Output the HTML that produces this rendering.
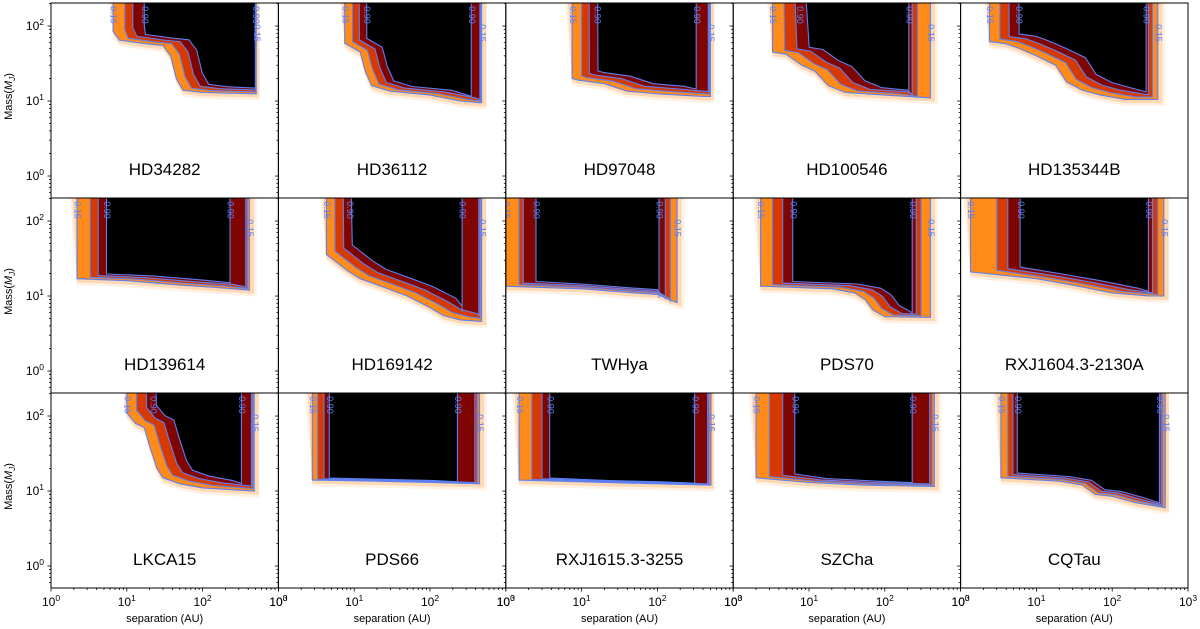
<!DOCTYPE html>
<html><head><meta charset="utf-8"><style>
body{margin:0;background:#fff;}
svg{display:block;font-family:"Liberation Sans",sans-serif;}
</style></head><body>
<svg id="fig" width="1200" height="629" viewBox="0 0 1200 629" xmlns="http://www.w3.org/2000/svg"></svg>
<script>
const names=["HD34282","HD36112","HD97048","HD100546","HD135344B","HD139614","HD169142","TWHya","PDS70","RXJ1604.3-2130A","LKCA15","PDS66","RXJ1615.3-3255","SZCha","CQTau"];
// inner separations for contour levels 0.15,0.5,0.7,0.9 (AU)
const sepIn=[[6.6,9.4,12,17],[7.5,9.5,11.5,14.5],[7.5,10,12.5,16],[3.3,4.5,5.8,7.5],[2.4,3.3,4.3,5.8],[2.2,3.3,4.2,5.4],[4.3,5.5,7,8.6],[1,1.5,1.7,2.5],[2.3,3.3,4.5,6.1],[1.35,3,4.2,6.1],[10,13,17,22],[2.8,3.3,4,4.7],[1.5,2.2,3,3.8],[2,3,4.5,6.5],[3.4,4.2,4.9,5.6]];
// outer separations for contour levels 0.15,0.5,0.7,0.9 (AU)
const sepOut=[[510,505,500,495],[480,470,455,350],[500,485,470,325],[400,270,230,207],[400,340,300,280],[415,390,370,230],[480,460,440,265],[182,148,127,105],[400,300,260,230],[480,400,340,300],[480,460,440,325],[450,420,390,230],[510,480,460,310],[450,420,390,230],[500,460,440,420]];
// 0.15 contour lower boundary: separations (AU) and masses (MJ)
const curveSep=[[6.6,8,18,30,38,45,55,100,500],[7.5,12,14,17,30,100,250,450],[7.5,9,20,40,100,400],[3.3,5,8,12,18,30,100,500],[2.4,4,6,10,18,25,40,70,150,500],[2.2,10,50,150,500],[4.3,8,12,25,50,100,150,250,450],[1,10,50,100,140,200,280],[2.3,20,40,55,70,100,350],[1.35,10,30,100,300,500],[10,13,17,20,25,30,50,100,500],[2.8,20,100,500],[1.5,20,100,500],[2,10,50,500],[3.4,20,40,60,100,200,500]];
const curveMass=[[85,65,58,55,40,20,14,13,12.5],[59,45,25,16,13.5,12,10,9.5],[20,19,17,13.5,12.5,11.5],[45,42,30,25,16,13,12,11],[62,58,50,40,30,18,14,12,10.5,10.5],[17,16,14,13,12],[36,22,17,13,10,7,5.5,4.8,4.6],[13.5,12.5,11,10.5,9,8.2,8.2],[13.5,12.5,11,9,6.5,5.3,5.2],[21,17,14,11,10,10],[110,80,70,40,20,15,12.5,11,10],[14,13.5,13,12.5],[14,13,12.5,12],[15,13,12,11.5],[15,13.5,12,9,8.5,7,6]];
const shiftS=[1.3,1.25,1.3,1.45,1.35,1.3,1.3,1.0,1.3,1.3,1.35,1.05,1.05,1.2,1.1];
const shiftM=[1.06,1.05,1.08,1.05,1.08,1.05,1.1,1.05,1.05,1.05,1.08,1.02,1.02,1.04,1.05];
const levelLabels=["0.15","0.50","0.70","0.90"];
const levelColors=["#ff8c1a","#d63a00","#7e0500","#000000"];

const NS="http://www.w3.org/2000/svg";
const svg=document.getElementById("fig");
const PW=227.4, PH=195, X0=51, Y0=3, DEC=75;
function mk(tag,attrs,parent){const e=document.createElementNS(NS,tag);for(const k in attrs)e.setAttribute(k,attrs[k]);(parent||svg).appendChild(e);return e;}
function xs(c,s){return X0+c*PW+PW/3*Math.log10(s);}
function ys(r,m){return Y0+r*PH+DEC*(2.307-Math.log10(m));}

const defs=mk("defs",{});
for(let i=0;i<15;i++){
  const c=i%5,r=Math.floor(i/5);
  const cp=mk("clipPath",{id:"clip"+i},defs);
  mk("rect",{x:X0+c*PW,y:Y0+r*PH,width:PW,height:PH},cp);
}
function levelPts(i,k,inF,outF,mF){
  const f=Math.pow(shiftS[i],k),g=Math.pow(shiftM[i],k)*mF;
  const si=sepIn[i][k]*inF, so=Math.min(sepOut[i][k]*outF,560);
  const pts=[[si,5000]];
  const cs=curveSep[i],cm=curveMass[i];
  let last=cm[0]*g;
  for(let j=0;j<cs.length;j++){
    const s=Math.min(Math.max(cs[j]*f,si),so);
    last=cm[j]*g;
    pts.push([s,last]);
  }
  pts.push([so,last]);pts.push([so,5000]);
  return pts;
}
for(let i=0;i<15;i++){
  const c=i%5,r=Math.floor(i/5);
  const px=X0+c*PW, py=Y0+r*PH;
  const g=mk("g",{"clip-path":"url(#clip"+i+")"});
  
  
  mk("rect",{x:px,y:py,width:PW,height:PH,fill:"#fff"},g);
  const halos=[[1.6,1.25,1.22,"#fff1e4"],[1.35,1.15,1.12,"#ffd9b3"]];
  halos.forEach(h=>{
    const p=levelPts(i,0,1/h[0],h[1],1/h[2]);
    const e=mk("polygon",{points:p.map(q=>xs(c,q[0]).toFixed(1)+","+ys(r,q[1]).toFixed(1)).join(" "),fill:h[3]},g);
    
    
  });
  for(let k=0;k<4;k++){
    const p=levelPts(i,k,1,1,1);
    const e=mk("polygon",{points:p.map(q=>xs(c,q[0]).toFixed(1)+","+ys(r,q[1]).toFixed(1)).join(" "),fill:levelColors[k]},g);
    
    
  }
  for(let k=0;k<4;k++){
    const p=levelPts(i,k,1,1,1);
    const e=mk("polyline",{points:p.map(q=>xs(c,q[0]).toFixed(1)+","+ys(r,q[1]).toFixed(1)).join(" "),fill:"none",stroke:"#5c7ff2","stroke-width":1.1},g);
    
    
  }
  [[0,sepIn[i][0],12],[3,sepIn[i][3],12],[3,sepOut[i][3],12],[0,sepOut[i][0],30]].forEach((L,idx)=>{
    const lx=xs(c,L[1]), ly=py+L[2];
    const t=mk("text",{x:lx,y:ly,fill:"#5c7ff2","font-size":9,"text-anchor":"middle","dominant-baseline":"middle",transform:"rotate(90 "+lx+" "+ly+")"},g);
    t.textContent=levelLabels[L[0]];
    
    
  });
  const t=mk("text",{x:px+PW/2,y:py+172,"font-size":17,"text-anchor":"middle",fill:"#000"});
  t.textContent=names[i];
  
  
}
for(let i=0;i<15;i++){
  const c=i%5,r=Math.floor(i/5);
  const px=X0+c*PW, py=Y0+r*PH;
  for(let d=-1;d<=2;d++)for(let m=1;m<10;m++){
    const v=m*Math.pow(10,d);const y=ys(r,v);
    if(y<py||y>py+PH)continue;
    mk("line",{x1:px,x2:px-(m==1?3.5:2),y1:y,y2:y,stroke:"#000","stroke-width":0.8});
  }
  if(r==2){
    for(let d=0;d<=3;d++)for(let m=1;m<10;m++){
      if(d==3&&m>1)break;
      const x=xs(c,m*Math.pow(10,d));
      mk("line",{x1:x,x2:x,y1:py+PH,y2:py+PH+(m==1?3.5:2),stroke:"#000","stroke-width":0.8});
    }
  }
  const f=mk("rect",{x:px,y:py,width:PW,height:PH,fill:"none",stroke:"#000","stroke-width":1});
  
  
}
const yTickExp=["2","1","0"];
for(let r=0;r<3;r++){
  yTickExp.forEach(e=>{
    const y=ys(r,Math.pow(10,+e));
    const t=mk("text",{x:44,y:y+4,"font-size":12,"text-anchor":"end"});
    t.innerHTML='10<tspan dy="-5" font-size="8.5">'+e+'</tspan>';
    
    
  });
  const cy=Y0+r*PH+PH/2-4;
  const t=mk("text",{x:12,y:cy,"font-size":11,"text-anchor":"middle",transform:"rotate(-90 12 "+cy+")"});
  t.innerHTML='Mass(<tspan font-style="italic">M</tspan><tspan font-size="8" dy="3" font-style="italic">J</tspan><tspan dy="-3">)</tspan>';
  
  
}
const xTickExp=["0","1","2","3"];
for(let c=0;c<5;c++){
  xTickExp.forEach(e=>{
    const x=xs(c,Math.pow(10,+e));
    const t=mk("text",{x:x,y:606,"font-size":12,"text-anchor":"middle"});
    t.innerHTML='10<tspan dy="-5" font-size="8.5">'+e+'</tspan>';
    
    
  });
  const t=mk("text",{x:X0+c*PW+PW/2,y:622,"font-size":11,"text-anchor":"middle"});
  t.textContent="separation (AU)";
  
  
}
</script>
</body></html>
